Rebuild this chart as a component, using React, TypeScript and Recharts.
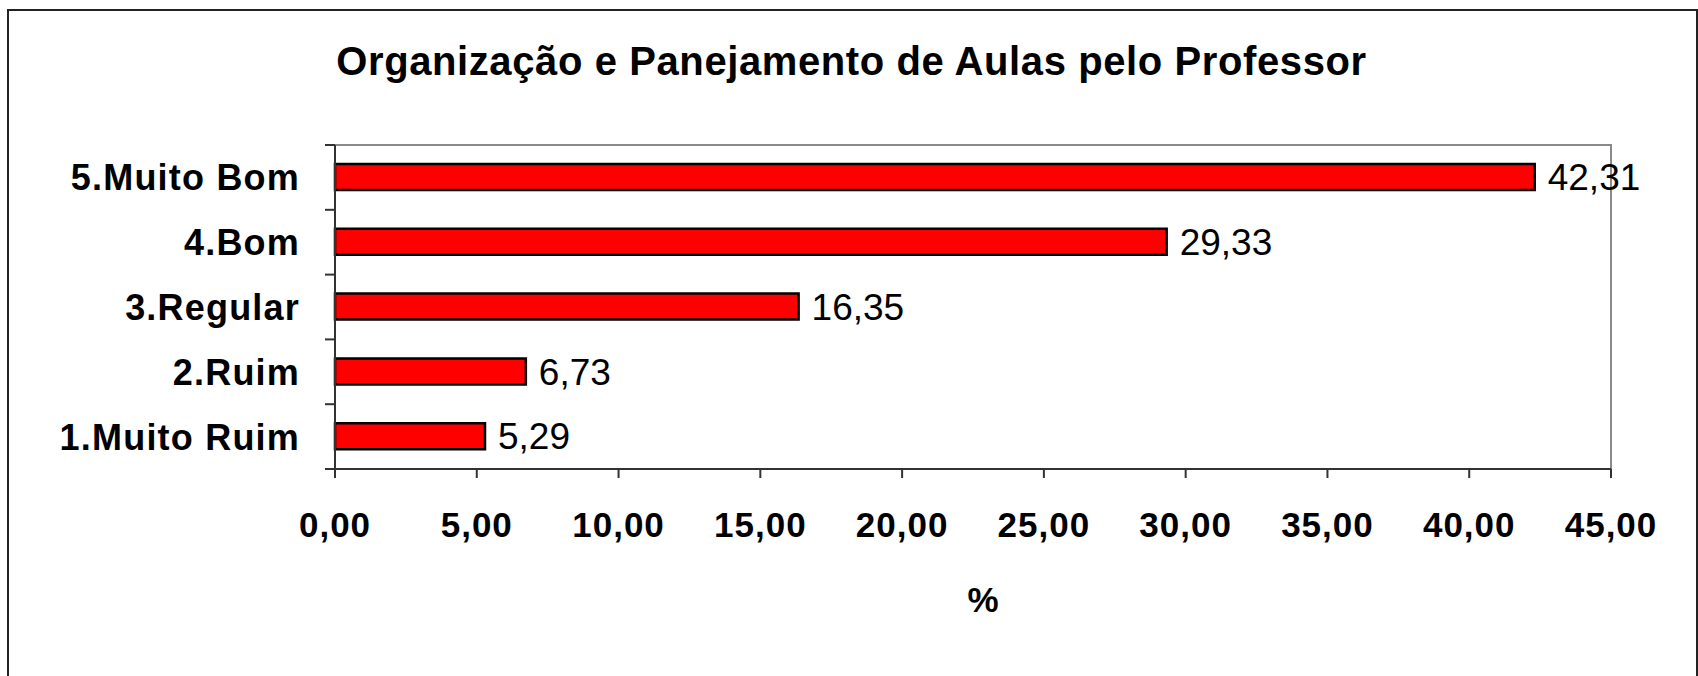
import { Bar, BarChart, LabelList, ReferenceArea, XAxis, YAxis } from "recharts";

const FONT = "'Liberation Sans', Arial, sans-serif";

const categories = ["5.Muito Bom", "4.Bom", "3.Regular", "2.Ruim", "1.Muito Ruim"];
const percents = [42.31, 29.33, 16.35, 6.73, 5.29];
const xTicks = [0, 5, 10, 15, 20, 25, 30, 35, 40, 45];

const rows = categories.map((name, i) => ({ name, value: percents[i] }));

const comma = (v: number) => v.toFixed(2).replace(".", ",");

const AXIS = "#333";
const FRAME = "#8a8a8a";

// category label plus tick marks on the band edges (Excel style)
function CategoryTick(props: any) {
  const { x, y, payload, index, visibleTicksCount } = props;
  const half = payload?.offset ?? 32.4;
  const axisX = x + 25 + 10;
  const last = index === (visibleTicksCount ?? categories.length) - 1;
  return (
    <g>
      <line x1={axisX - 10} x2={axisX} y1={y - half} y2={y - half} stroke={AXIS} strokeWidth={2} />
      {last ? (
        <line x1={axisX - 10} x2={axisX} y1={y + half} y2={y + half} stroke={AXIS} strokeWidth={2} />
      ) : null}
      <text
        x={x}
        y={y}
        dy="0.36em"
        textAnchor="end"
        fill="#000"
        fontFamily={FONT}
        fontWeight={700}
        fontSize={36}
        letterSpacing={1.2}
      >
        {payload.value}
      </text>
    </g>
  );
}

export default function App() {
  return (
    <div
      style={{
        position: "fixed",
        left: 0,
        top: 0,
        width: 1698,
        height: 676,
        overflow: "hidden",
        background: "#fff",
        fontFamily: FONT,
      }}
    >
      <div
        style={{
          position: "absolute",
          left: 7,
          top: 9,
          width: 1687,
          height: 700,
          border: "2px solid #222",
        }}
      />
      <div
        style={{
          position: "absolute",
          left: 0,
          top: 39,
          width: 1703,
          textAlign: "center",
          fontWeight: 700,
          fontSize: 40,
          letterSpacing: 0.6,
          lineHeight: "44px",
          color: "#000",
          whiteSpace: "nowrap",
        }}
      >
        Organização e Panejamento de Aulas pelo Professor
      </div>
      <div style={{ position: "absolute", left: 0, top: 0 }}>
        <BarChart
          width={1698}
          height={676}
          layout="vertical"
          data={rows}
          margin={{ top: 145, right: 87, bottom: 0, left: 0 }}
          barSize={26}
        >
          <ReferenceArea
            x1={0}
            x2={45}
            fill="none"
            fillOpacity={0}
            stroke={FRAME}
            strokeWidth={2}
          />
          <XAxis
            type="number"
            domain={[0, 45]}
            ticks={xTicks}
            height={207}
            tickFormatter={comma}
            tickSize={9}
            tickMargin={34}
            axisLine={{ stroke: AXIS, strokeWidth: 2 }}
            tickLine={{ stroke: AXIS, strokeWidth: 2 }}
            tick={{ fill: "#000", fontFamily: FONT, fontWeight: 700, fontSize: 35, letterSpacing: 1 }}
            label={{
              value: "%",
              position: "insideBottom",
              offset: 64,
              dx: 10,
              fill: "#000",
              fontFamily: FONT,
              fontWeight: 700,
              fontSize: 35,
            }}
          />
          <YAxis
            type="category"
            dataKey="name"
            width={335}
            tickSize={10}
            tickMargin={25}
            tickLine={false}
            axisLine={{ stroke: AXIS, strokeWidth: 2 }}
            tick={<CategoryTick />}
            interval={0}
          />
          <Bar dataKey="value" fill="#ff0000" stroke="#000" strokeWidth={2.5} isAnimationActive={false}>
            <LabelList
              dataKey="value"
              position="right"
              offset={13}
              formatter={(v: any) => comma(Number(v))}
              fill="#000"
              fontFamily={FONT}
              fontSize={37}
            />
          </Bar>
        </BarChart>
      </div>
    </div>
  );
}
